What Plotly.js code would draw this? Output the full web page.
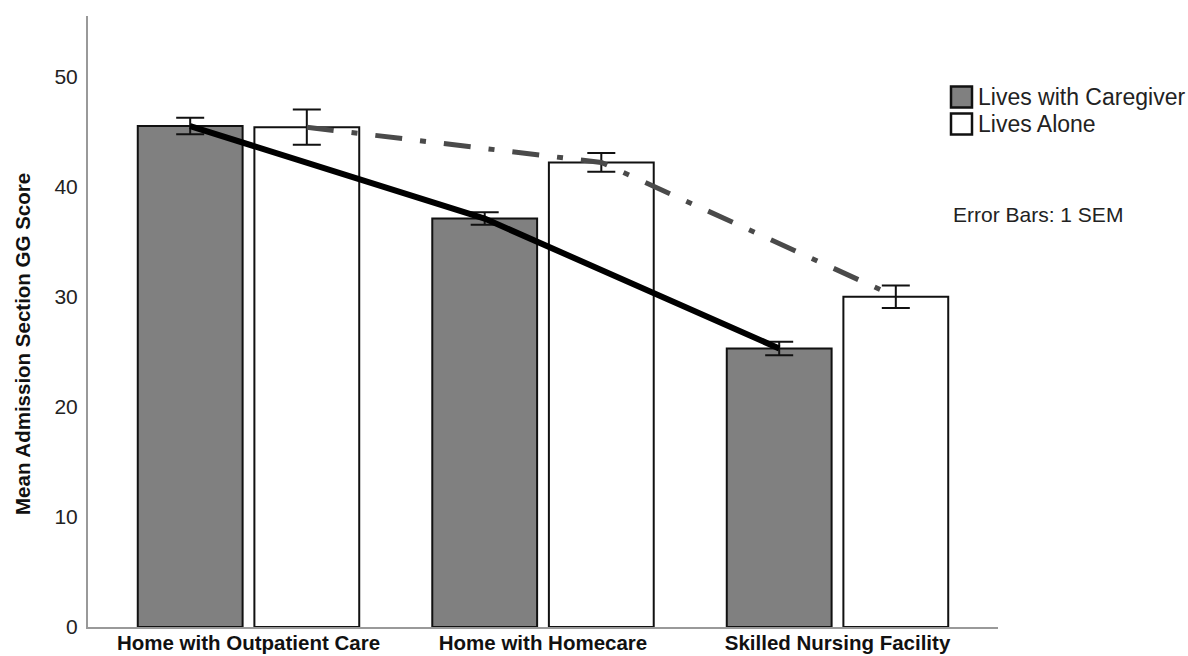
<!DOCTYPE html>
<html>
<head>
<meta charset="utf-8">
<script src="https://cdn.plot.ly/plotly-3.0.1.min.js"></script>
<style>html,body{margin:0;padding:0;background:#fff;}#chart{width:1188px;height:656px;}</style>
</head>
<body>
<div id="chart"></div>
<script>
// ---- data ----
const categories = ["Home with Outpatient Care", "Home with Homecare", "Skilled Nursing Facility"];
const seriesNames = ["Lives with Caregiver", "Lives Alone"];
const caregiverMean = [45.5, 37.1, 25.3];
const caregiverSEM = [0.75, 0.57, 0.62];
const aloneMean = [45.4, 42.2, 30.0];
const aloneSEM = [1.6, 0.85, 1.03];
const yTicks = [0, 10, 20, 30, 40, 50];

// ---- layout helpers ----
const FONT = "Liberation Sans, Arial, sans-serif";
const idx = categories.map((_, i) => i);
const OFF = 0.198, BW = 0.356;
const xCare = idx.map(i => i - OFF);
const xAlone = idx.map(i => i + OFF);
const fills = ["#808080", "#ffffff"];

const barCommon = {type: "bar", width: BW, showlegend: false, hoverinfo: "skip"};
const traces = [
  Object.assign({}, barCommon, {
    x: xCare, y: caregiverMean, name: seriesNames[0],
    marker: {color: fills[0], line: {color: "#111", width: 2}},
    error_y: {type: "data", array: caregiverSEM, visible: true, color: "#111", thickness: 2, width: 14}
  }),
  Object.assign({}, barCommon, {
    x: xAlone, y: aloneMean, name: seriesNames[1],
    marker: {color: fills[1], line: {color: "#111", width: 2}},
    error_y: {type: "data", array: aloneSEM, visible: true, color: "#111", thickness: 2, width: 14}
  }),
  {type: "scatter", mode: "lines", x: xCare, y: caregiverMean, showlegend: false,
   line: {color: "#000", width: 6}, hoverinfo: "skip"},
  {type: "scatter", mode: "lines", x: xAlone, y: aloneMean, showlegend: false,
   line: {color: "#4a4a4a", width: 5, dash: "27px,18px,6px,18px"}, hoverinfo: "skip"}
];

// manual legend (plot area: left 88, width 910; bottom 627, height 611)
const W = 910, H = 611;
const px = v => (v - 88) / W;
const py = v => (627 - v) / H;
const legRows = [97, 124];
const shapes = seriesNames.map((n, i) => ({
  type: "rect", xref: "paper", yref: "paper",
  x0: px(951), x1: px(972), y0: py(legRows[i] + 10.5), y1: py(legRows[i] - 10.5),
  fillcolor: fills[i], line: {color: "#111", width: 2.5}
}));
const legAnn = seriesNames.map((n, i) => ({
  text: n, xref: "paper", yref: "paper", x: px(976), y: py(legRows[i]),
  xanchor: "left", yanchor: "middle", showarrow: false,
  font: {family: FONT, size: 23, color: "#222"}
}));

const layout = {
  width: 1188, height: 656,
  margin: {l: 88, r: 190, t: 16, b: 29, pad: 0},
  paper_bgcolor: "#fff", plot_bgcolor: "#fff",
  barmode: "overlay", showlegend: false,
  font: {family: FONT, color: "#222"},
  xaxis: {
    range: [-0.545, 2.545], tickvals: idx, ticktext: categories, automargin: false,
    showgrid: false, zeroline: false, showline: true, linecolor: "#999", linewidth: 2,
    ticks: "", ticklabelstandoff: -4,
    tickfont: {family: FONT, size: 20.5, color: "#111", weight: "bold"}
  },
  yaxis: {
    range: [0, 55.5], tickvals: yTicks, showgrid: false, zeroline: false, automargin: false,
    showline: true, linecolor: "#999", linewidth: 2, ticks: "", ticklabelstandoff: 4,
    tickfont: {family: FONT, size: 21, color: "#222"}
  },
  shapes: shapes,
  annotations: legAnn.concat([
    {text: "Error Bars: 1 SEM", xref: "paper", yref: "paper", x: px(951), y: py(214),
     xanchor: "left", yanchor: "middle", showarrow: false,
     font: {family: FONT, size: 21, color: "#222"}},
    {text: "<b>Mean Admission Section GG Score</b>", xref: "paper", yref: "paper",
     x: px(22), y: py(344), xanchor: "center", yanchor: "middle", textangle: -90,
     showarrow: false, font: {family: FONT, size: 20.5, color: "#111"}}
  ])
};

Plotly.newPlot("chart", traces, layout, {displayModeBar: false, staticPlot: true});
</script>
</body>
</html>
